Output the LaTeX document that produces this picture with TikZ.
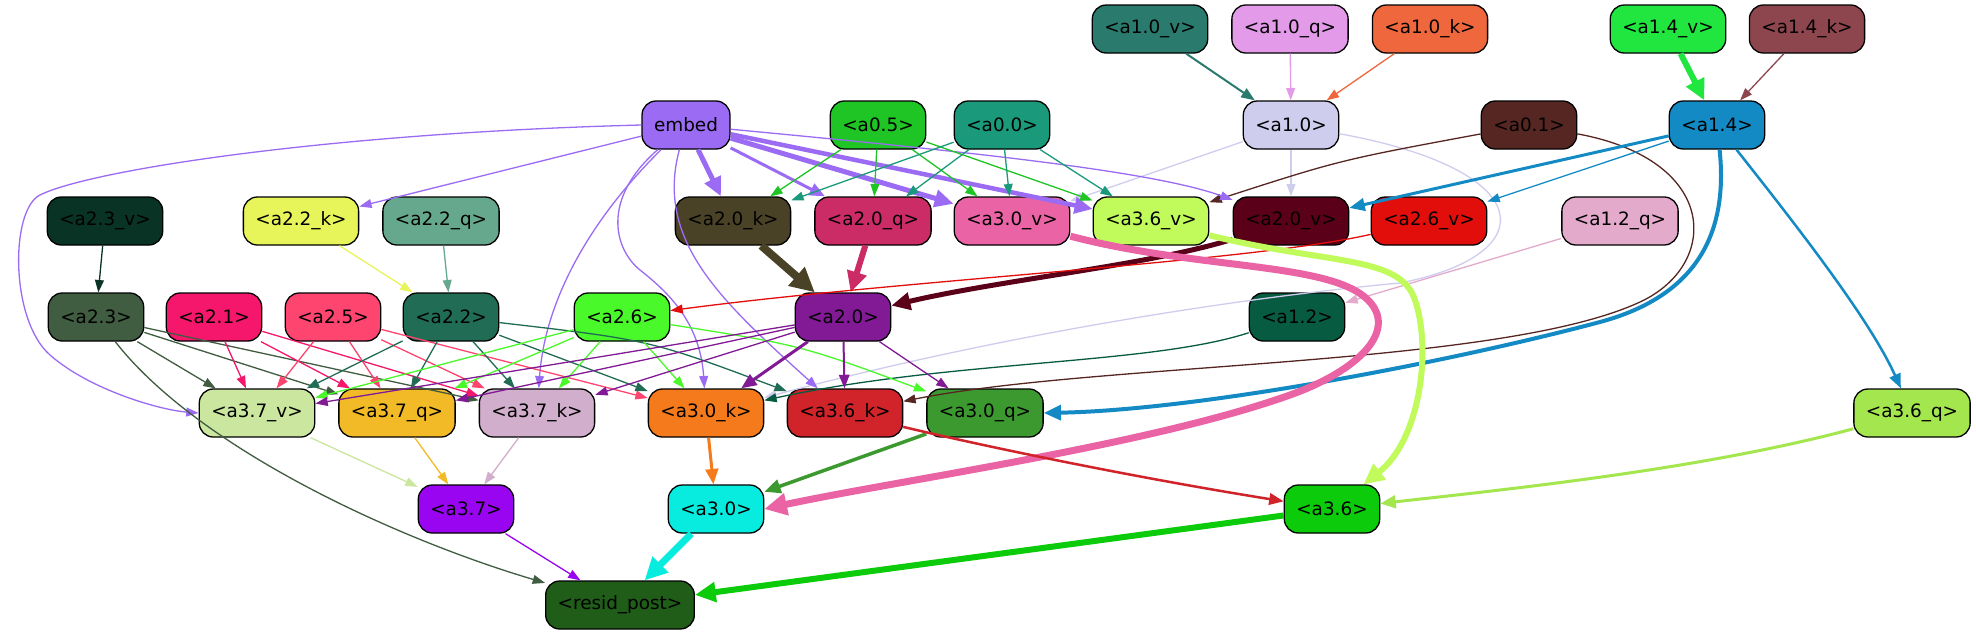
\documentclass[tikz,border=0pt]{standalone}
\usepackage{fontspec}
\setmainfont{DejaVu Sans}
\usetikzlibrary{arrows.meta}
\definecolor{cEmb}{HTML}{9B6CF3}
\definecolor{cZf}{HTML}{1EC524}
\definecolor{cZz}{HTML}{1A9A7A}
\definecolor{cOzv}{HTML}{2A7A6E}
\definecolor{cOzq}{HTML}{E39BE9}
\definecolor{cOzk}{HTML}{EF673C}
\definecolor{cOfv}{HTML}{22E640}
\definecolor{cOfk}{HTML}{8E464E}
\definecolor{cOz}{HTML}{CFCDEE}
\definecolor{cZo}{HTML}{562722}
\definecolor{cOf}{HTML}{148AC4}
\definecolor{cTtv}{HTML}{093324}
\definecolor{cTtk}{HTML}{E8F55A}
\definecolor{cTtq}{HTML}{66A88E}
\definecolor{cTzk}{HTML}{4A4226}
\definecolor{cTzq}{HTML}{CB2C66}
\definecolor{cHzv}{HTML}{E963A5}
\definecolor{cHsv}{HTML}{C0FB5B}
\definecolor{cTzv}{HTML}{5A0019}
\definecolor{cTsv}{HTML}{E20E0C}
\definecolor{cOtq}{HTML}{E3AACC}
\definecolor{cTth}{HTML}{405C41}
\definecolor{cTo}{HTML}{F5176B}
\definecolor{cTf}{HTML}{FD4570}
\definecolor{cTt}{HTML}{206C54}
\definecolor{cTs}{HTML}{49F929}
\definecolor{cTz}{HTML}{811A94}
\definecolor{cOt}{HTML}{075B40}
\definecolor{cHvv}{HTML}{CBE69E}
\definecolor{cHvq}{HTML}{F2BA26}
\definecolor{cHvk}{HTML}{D1AECB}
\definecolor{cHzk}{HTML}{F47A1B}
\definecolor{cHsk}{HTML}{D0232A}
\definecolor{cHzq}{HTML}{3C9930}
\definecolor{cHsq}{HTML}{A4E64D}
\definecolor{cHv}{HTML}{9905F0}
\definecolor{cHz}{HTML}{08ECE0}
\definecolor{cHs}{HTML}{0CCB0A}
\definecolor{cRes}{HTML}{1F5D19}
\newcommand{\nodefontsel}{\fontsize{18.4pt}{22pt}\selectfont}
\begin{document}
\begin{tikzpicture}[x=1pt,y=-1pt,
  nd/.style={draw=black, line width=1.3pt, rounded corners=14pt, minimum height=48pt,
     inner xsep=12pt, inner ysep=0pt, font=\nodefontsel, text=black},
  e/.style={draw=#1, line width=1.3pt, -{Triangle[length=10pt 1.8,width=6pt 2.2]}}]
\fill[white] (0,0) rectangle (1976,635);
\useasboundingbox (0,0) rectangle (1976,635);
% row 1
\node[nd, fill=cOzv] (n10v) at (1150,29) {<a1.0\_v>};
\node[nd, fill=cOzq] (n10q) at (1290,29) {<a1.0\_q>};
\node[nd, fill=cOzk] (n10k) at (1430,29) {<a1.0\_k>};
\node[nd, fill=cOfv] (n14v) at (1668,29) {<a1.4\_v>};
\node[nd, fill=cOfk] (n14k) at (1807,29) {<a1.4\_k>};
% row 2
\node[nd, fill=cEmb] (emb) at (686,125) {embed};
\node[nd, fill=cZf] (n05) at (878,125) {<a0.5>};
\node[nd, fill=cZz] (n00) at (1002,125) {<a0.0>};
\node[nd, fill=cOz] (n10) at (1291,125) {<a1.0>};
\node[nd, fill=cZo] (n01) at (1529,125) {<a0.1>};
\node[nd, fill=cOf] (n14) at (1717,125) {<a1.4>};
% row 3
\node[nd, fill=cTtv] (n23v) at (105,221) {<a2.3\_v>};
\node[nd, fill=cTtk] (n22k) at (301,221) {<a2.2\_k>};
\node[nd, fill=cTtq] (n22q) at (441,221) {<a2.2\_q>};
\node[nd, fill=cTzk] (n20k) at (733,221) {<a2.0\_k>};
\node[nd, fill=cTzq] (n20q) at (873,221) {<a2.0\_q>};
\node[nd, fill=cHzv] (n30v) at (1012,221) {<a3.0\_v>};
\node[nd, fill=cHsv] (n36v) at (1151,221) {<a3.6\_v>};
\node[nd, fill=cTzv] (n20v) at (1291,221) {<a2.0\_v>};
\node[nd, fill=cTsv] (n26v) at (1429,221) {<a2.6\_v>};
\node[nd, fill=cOtq] (n12q) at (1620,221) {<a1.2\_q>};
% row 4
\node[nd, fill=cTth] (n23) at (96,317) {<a2.3>};
\node[nd, fill=cTo] (n21) at (214,317) {<a2.1>};
\node[nd, fill=cTf] (n25) at (333,317) {<a2.5>};
\node[nd, fill=cTt] (n22) at (451,317) {<a2.2>};
\node[nd, fill=cTs] (n26) at (622,317) {<a2.6>};
\node[nd, fill=cTz] (n20) at (843,317) {<a2.0>};
\node[nd, fill=cOt] (n12) at (1297,317) {<a1.2>};
% row 5
\node[nd, fill=cHvv] (n37v) at (257,413) {<a3.7\_v>};
\node[nd, fill=cHvq] (n37q) at (397,413) {<a3.7\_q>};
\node[nd, fill=cHvk] (n37k) at (537,413) {<a3.7\_k>};
\node[nd, fill=cHzk] (n30k) at (706,413) {<a3.0\_k>};
\node[nd, fill=cHsk] (n36k) at (845,413) {<a3.6\_k>};
\node[nd, fill=cHzq] (n30q) at (985,413) {<a3.0\_q>};
\node[nd, fill=cHsq] (n36q) at (1912,413) {<a3.6\_q>};
% row 6
\node[nd, fill=cHv] (n37) at (466,509) {<a3.7>};
\node[nd, fill=cHz] (n30) at (716,509) {<a3.0>};
\node[nd, fill=cHs] (n36) at (1332,509) {<a3.6>};
% row 7
\node[nd, fill=cRes] (res) at (620,605) {<resid\_post>};

% ---- edges: top rows
\draw[e=cOzv, line width=2pt] (n10v) -- (n10);
\draw[e=cOzq] (n10q) -- (n10);
\draw[e=cOzk] (n10k) -- (n10);
\draw[e=cOfv, line width=6pt] (n14v) -- (n14);
\draw[e=cOfk] (n14k) -- (n14);
\draw[e=cOz] (n10) -- (n20v);
\draw[e=cOz] (n10) -- (n30v);
\draw[e=cOz] (n10) .. controls (1540,170) and (1545,255) .. (1400,283) .. controls (1300,292) and (1050,322) .. (n30k);
\draw[e=cZo] (n01) .. controls (1340,160) .. (n36v);
\draw[e=cZo] (n01) .. controls (1720,160) and (1720,265) .. (1640,302) .. controls (1500,367) and (1100,362) .. (n36k);
% embed
\draw[e=cEmb, line width=5pt] (emb) -- (n20k);
\draw[e=cEmb, line width=3pt] (emb) -- (n20q);
\draw[e=cEmb, line width=5pt] (emb) -- (n30v);
\draw[e=cEmb, line width=4.5pt] (emb) -- (n36v);
\draw[e=cEmb] (emb) .. controls (950,150) and (1150,170) .. (n20v);
\draw[e=cEmb] (emb) -- (n22k);
\draw[e=cEmb] (emb.west) .. controls (330,133) and (90,170) .. (40,195) .. controls (10,210) and (10,320) .. (50,355) .. controls (90,390) and (160,410) .. (n37v.west);
\draw[e=cEmb] (emb) .. controls (590,220) and (545,300) .. (n37k);
\draw[e=cEmb] (emb) .. controls (600,200) and (615,250) .. (640,270) .. controls (665,290) and (700,320) .. (n30k);
\draw[e=cEmb] (emb) .. controls (655,240) and (720,300) .. (n36k);
% a0.5 / a0.0
\draw[e=cZf] (n05) -- (n20k);
\draw[e=cZf] (n05) -- (n20q);
\draw[e=cZf] (n05) -- (n30v);
\draw[e=cZf] (n05) -- (n36v);
\draw[e=cZz] (n00) -- (n20k);
\draw[e=cZz] (n00) -- (n20q);
\draw[e=cZz] (n00) -- (n30v);
\draw[e=cZz] (n00) -- (n36v);
% a1.4
\draw[e=cOf, line width=3pt] (n14) -- (n20v);
\draw[e=cOf] (n14) -- (n26v);
\draw[e=cOf, line width=4pt] (n14) .. controls (1728,230) and (1700,295) .. (1600,322) .. controls (1450,362) and (1200,410) .. (n30q.east);
\draw[e=cOf, line width=2.5pt] (n14) .. controls (1800,230) and (1870,320) .. (n36q);
% layer 2 inputs
\draw[e=cTtv] (n23v) -- (n23);
\draw[e=cTtk] (n22k) -- (n22);
\draw[e=cTtq] (n22q) -- (n22);
\draw[e=cTzk, line width=8pt] (n20k) -- (n20);
\draw[e=cTzq, line width=6pt] (n20q) -- (n20);
\draw[e=cTzv, line width=5pt] (n20v) .. controls (1150,265) and (1000,280) .. (n20);
\draw[e=cTsv] (n26v) .. controls (1250,262) and (900,280) .. (n26);
\draw[e=cOtq] (n12q) -- (n12);
\draw[e=cOt] (n12) .. controls (1150,365) and (950,360) .. (n30k);
% a3.0_v, a3.6_v
\draw[e=cHzv, line width=7pt] (n30v) .. controls (1200,270) and (1330,262) .. (1368,300) .. controls (1398,330) and (1360,370) .. (1290,395) .. controls (1150,445) and (900,480) .. (n30.east);
\draw[e=cHsv, line width=6pt] (n36v) .. controls (1330,265) and (1400,255) .. (1415,300) .. controls (1432,350) and (1420,440) .. (n36);
\draw[e=cHsq, line width=3pt] (n36q) .. controls (1700,470) and (1500,490) .. (n36);
% layer 2 -> layer 3.7
\draw[e=cTth] (n23) -- (n37v);
\draw[e=cTth] (n23) -- (n37q);
\draw[e=cTth] (n23) -- (n37k);
\draw[e=cTo] (n21) -- (n37v);
\draw[e=cTo] (n21) -- (n37q);
\draw[e=cTo] (n21) -- (n37k);
\draw[e=cTf] (n25) -- (n37v);
\draw[e=cTf] (n25) -- (n37q);
\draw[e=cTf] (n25) -- (n37k);
\draw[e=cTf] (n25) -- (n30k);
\draw[e=cTt] (n22) -- (n37v);
\draw[e=cTt] (n22) -- (n37q);
\draw[e=cTt] (n22) -- (n37k);
\draw[e=cTt] (n22) -- (n30k);
\draw[e=cTt] (n22) .. controls (650,340) .. (n36k);
\draw[e=cTs] (n26) -- (n37v);
\draw[e=cTs] (n26) -- (n37q);
\draw[e=cTs] (n26) -- (n37k);
\draw[e=cTs] (n26) -- (n30k);
\draw[e=cTs] (n26) .. controls (800,345) .. (n30q);
\draw[e=cTz] (n20) -- (n37v);
\draw[e=cTz] (n20) -- (n37q);
\draw[e=cTz] (n20) -- (n37k);
\draw[e=cTz, line width=3pt] (n20) -- (n30k);
\draw[e=cTz, line width=2pt] (n20) -- (n36k);
\draw[e=cTz] (n20) -- (n30q);
% layer 3
\draw[e=cHvv] (n37v) -- (n37);
\draw[e=cHvq] (n37q) -- (n37);
\draw[e=cHvk] (n37k) -- (n37);
\draw[e=cHzk, line width=3pt] (n30k) -- (n30);
\draw[e=cHzq, line width=3.5pt] (n30q) -- (n30);
\draw[e=cHsk, line width=2.5pt] (n36k) .. controls (1000,450) and (1150,480) .. (n36);
% resid
\draw[e=cHv] (n37) -- (res);
\draw[e=cHz, line width=7pt] (n30) -- (res);
\draw[e=cHs, line width=6pt] (n36) -- (res);
\draw[e=cTth] (n23) .. controls (200,450) and (400,540) .. (res);
\end{tikzpicture}
\end{document}
